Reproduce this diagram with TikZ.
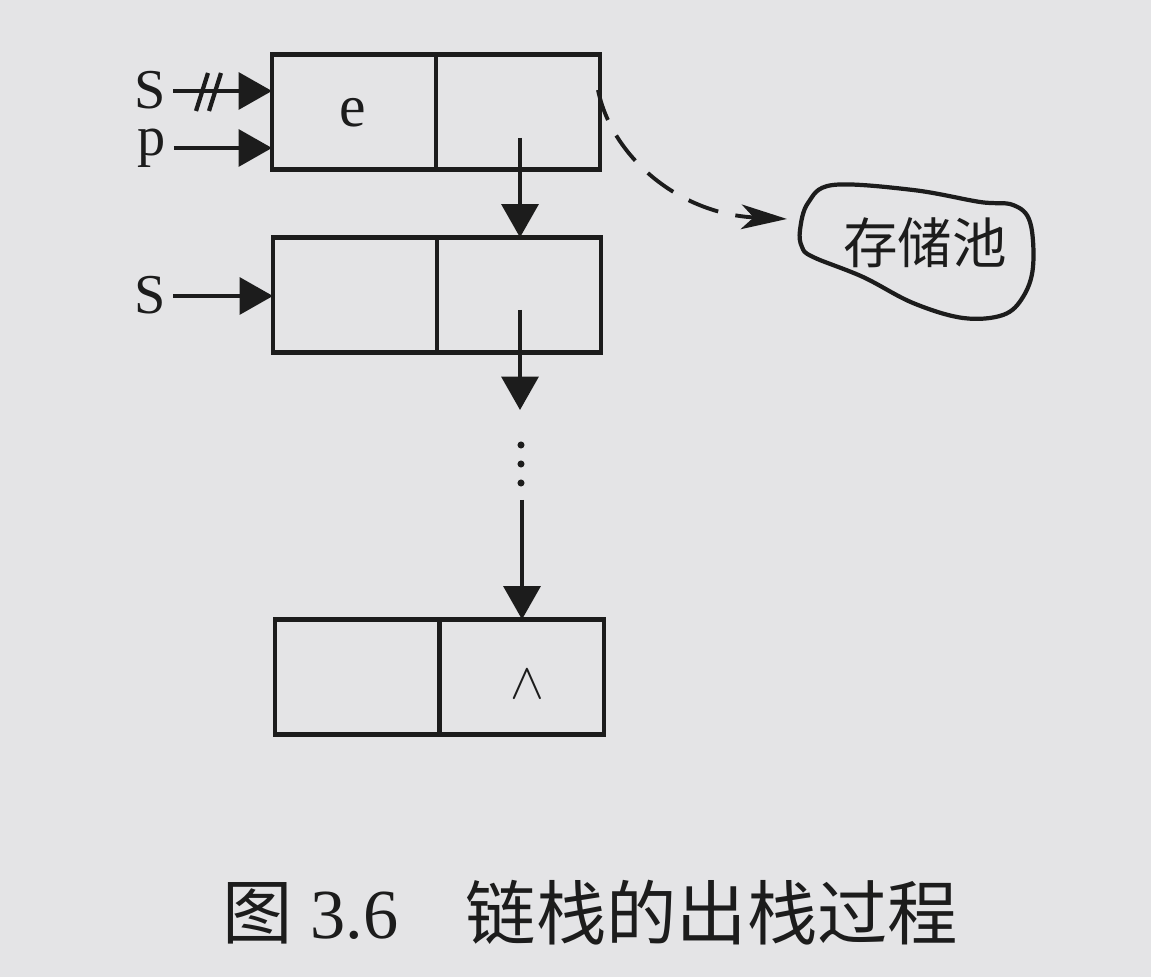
\documentclass[tikz,border=0pt]{standalone}
\usepackage{fontspec}
\setmainfont{Liberation Serif}
\newfontfamily\cjk{Noto Sans CJK SC}
\usetikzlibrary{arrows.meta}
\definecolor{paper}{RGB}{228,228,230}
\definecolor{ink}{RGB}{28,28,28}
\begin{document}
\begin{tikzpicture}[x=0.01cm,y=-0.01cm,
  cell/.style={draw=ink,line width=1.25pt,minimum width=1.64cm,minimum height=1.15cm,inner sep=0pt,outer sep=0pt},
  ptr/.style={draw=ink,line width=1.05pt,-{Triangle[length=9.5pt,width=10.5pt]}},
  lbl/.style={text=ink,font=\fontsize{16}{18}\selectfont,inner ysep=0pt,inner xsep=2pt,text height=10pt,text depth=0pt},
  celltext/.style={text=ink,font=\fontsize{17}{19}\selectfont,inner sep=0pt},
  dashptr/.style={draw=ink,line width=1.1pt,dash pattern=on 9pt off 5pt,-{Stealth[length=13pt,width=7pt,inset=3.5pt]}},
  caption/.style={text=ink,font=\fontsize{20}{24}\selectfont,inner sep=0pt,anchor=west}]
\fill[paper] (0,0) rectangle (1151,977);
\useasboundingbox (0,0) rectangle (1151,977);

% list cells
\node[cell] (b1l) at (354,112) {};
\node[cell] (b1r) at (518,112) {};
\node[cell] (b2l) at (355,295) {};
\node[cell] (b2r) at (519,295) {};
\node[cell] (b3l) at (357,677) {};
\node[cell] (b3r) at (522,677) {};

\node[celltext] (e) at (353,113) {e};
\node[celltext,font=\fontsize{14}{16}\selectfont] (nil) at (527,684) {$\wedge$};

% labels
\node[lbl] (S1) at (150,91) {S};
\node[lbl,text height=7pt,text depth=3pt] (pl) at (152,148) {p};
\node[lbl] (S2) at (150,296) {S};

\draw[ptr] (S1.east) -- (S1.east -| b1l.west);
\draw[ptr] (pl.east) -- (pl.east -| b1l.west);
\draw[ptr] (S2.east) -- (S2.east -| b2l.west);
% cancel marks on old S pointer
\draw[ink,line width=1.2pt] (196,111) -- (208,73);
\draw[ink,line width=1.2pt] (209,111) -- (221,73);

% next pointers
\coordinate (n1) at (520,138);
\coordinate (n2) at (520,310);
\coordinate (t2) at (520,410);
\coordinate (n3) at (522,500);
\draw[ptr] (n1) -- (n1 |- b2r.north);
\draw[ptr] (n2) -- (t2);
\draw[ptr] (n3) -- (n3 |- b3r.north);
\fill[ink] (521,445) circle[radius=1pt];
\fill[ink] (521,464) circle[radius=1pt];
\fill[ink] (521,483) circle[radius=1pt];

% storage pool
\draw[ink,line width=1.2pt] plot[smooth cycle,tension=0.6] coordinates {
  (833,185) (913,190) (980,202) (1013,205) (1030,222) (1033,267) (1023,297)
  (1003,315) (963,318) (913,303) (863,277) (813,257) (802,247) (800,230) (808,203)};
\node[text=ink,font=\cjk\fontsize{15.5}{18}\selectfont,inner sep=0pt] (pool) at (925,243) {存储池};
\coordinate (src) at (598,90);
\coordinate (tip) at (787,219);
\draw[dashptr] (src) .. controls (612,158) and (680,214) .. (tip);

% caption
\node[caption] (fig) at (222,913) {{\cjk 图} 3.6};
\node[caption,font=\cjk\fontsize{20}{24}\selectfont] (title) at (465,913) {链栈的出栈过程};
\end{tikzpicture}
\end{document}
